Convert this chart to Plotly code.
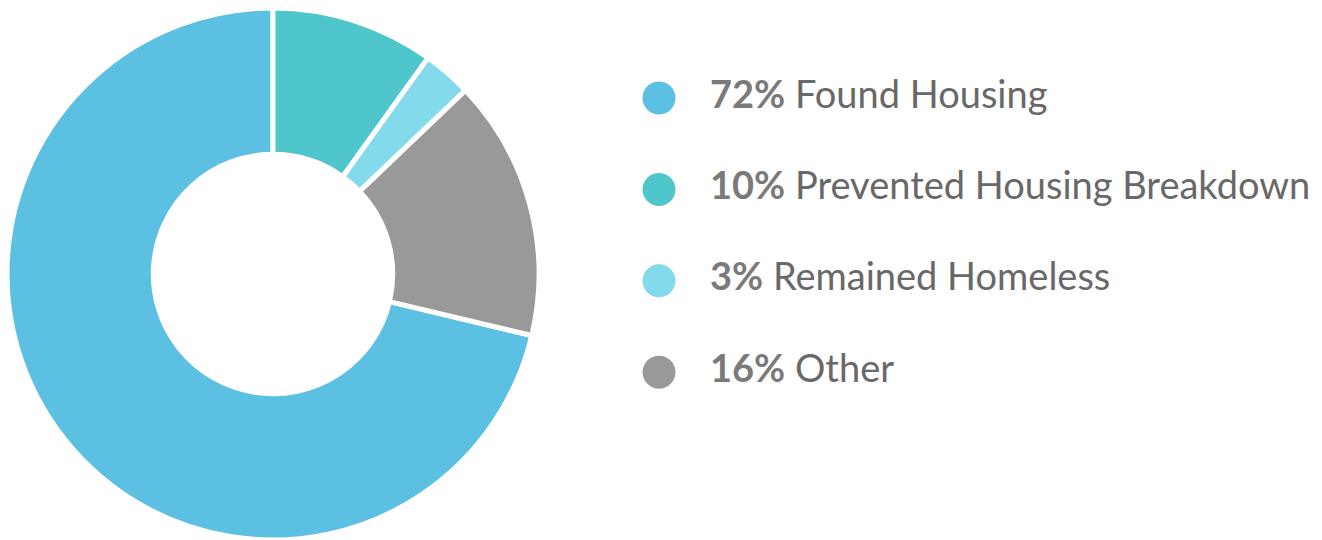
import plotly.graph_objects as go

categories = ["Found Housing", "Prevented Housing Breakdown", "Remained Homeless", "Other"]
values = [72, 10, 3, 16]
colors = ["#5BC0E2", "#4FC6CB", "#82DAEA", "#999999"]

total = sum(values)
start_angle = 360 - values[0] / total * 360  # first slice ends at 12 o'clock

fig = go.Figure()

fig.add_trace(go.Pie(
    labels=categories,
    values=values,
    sort=False,
    direction="clockwise",
    rotation=start_angle,
    hole=0.45,
    marker=dict(colors=colors, line=dict(color="white", width=5)),
    textinfo="none",
    hoverinfo="label+percent",
    showlegend=False,
    domain=dict(x=[7 / 1322, 539 / 1322], y=[0, 532 / 540]),
))

idx = list(range(len(categories)))
labels = [f'<b><span style="color:#7a7a7a">{v}%</span></b> {c}' for v, c in zip(values, categories)]

fig.add_trace(go.Scatter(
    x=[0] * len(idx), y=idx, mode="markers",
    marker=dict(size=33, color=colors),
    hoverinfo="skip", showlegend=False,
    xaxis="x", yaxis="y",
))
fig.add_trace(go.Scatter(
    x=[1] * len(idx), y=idx, mode="text",
    text=labels, textposition="middle right",
    textfont=dict(family="Lato", size=38, color="#686868"),
    hoverinfo="skip", showlegend=False,
    xaxis="x", yaxis="y",
))

# px mapping: x=0 -> 659px, x=1 -> 710px ; y rows 0..3 at 98..372 px
x_px0, x_px1 = 659, 710
xdom = [600 / 1322, 1.0]
unit = x_px1 - x_px0
x_lo = (600 - x_px0) / unit
x_hi = (1322 - x_px0) / unit
row0, rowstep = 98, 91.4
y_top = -row0 / rowstep
y_bot = (540 - row0) / rowstep

fig.update_layout(
    width=1322, height=540,
    margin=dict(l=0, r=0, t=0, b=0),
    paper_bgcolor="white", plot_bgcolor="rgba(0,0,0,0)",
    xaxis=dict(domain=xdom, range=[x_lo, x_hi], visible=False, fixedrange=True),
    yaxis=dict(domain=[0, 1], range=[y_bot, y_top], visible=False, fixedrange=True),
    font=dict(family="Lato"),
)

fig.write_html("out.html", config={"displayModeBar": False},
               post_script="document.body.style.margin='0';")
